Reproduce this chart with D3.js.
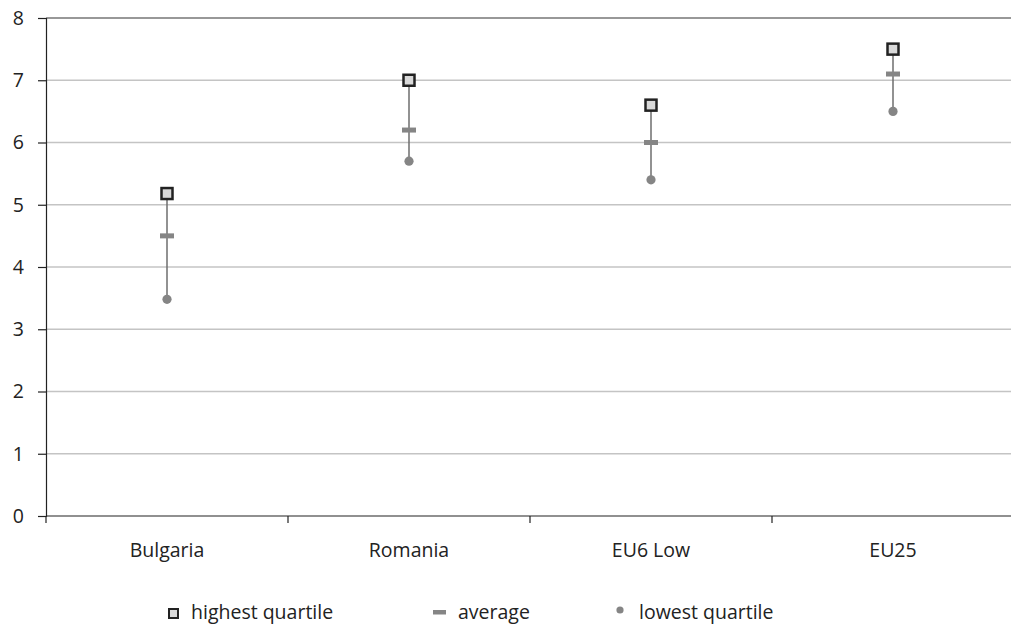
<!DOCTYPE html>
<html><head><meta charset="utf-8">
<script src="https://cdn.jsdelivr.net/npm/d3@7"></script>
<style>body{margin:0;background:#fff}svg{display:block}text{font-family:"Open Sans","Noto Sans",sans-serif;fill:#222}</style>
</head><body><svg id="c" width="1011" height="625"></svg>
<script>
const categories = ["Bulgaria","Romania","EU6 Low","EU25"];
const highest = [5.18, 7.0, 6.6, 7.5];
const average = [4.5, 6.2, 6.0, 7.1];
const lowest = [3.48, 5.7, 5.4, 6.5];
const yTicks = [0,1,2,3,4,5,6,7,8];
const legendLabels = ["highest quartile","average","lowest quartile"];

const svg = d3.select("#c");
const x = d3.scaleBand().domain(categories).range([46, 1014]);
const y = d3.scaleLinear().domain([0, 8]).range([516, 18]);
const FS = "19.5px";

// gridlines
svg.append("g").selectAll("line").data(yTicks.filter(d => d > 0 && d < 8)).join("line")
  .attr("x1", 46).attr("x2", 1011).attr("y1", d => y(d)).attr("y2", d => y(d))
  .attr("stroke", "#c4c4c4").attr("stroke-width", 1.3);
svg.append("line").attr("x1", 46).attr("x2", 1011).attr("y1", y(8)).attr("y2", y(8))
  .attr("stroke", "#333").attr("stroke-width", 1.2);

// y axis
const ya = svg.append("g").attr("transform", "translate(46,0)")
  .call(d3.axisLeft(y).tickValues(yTicks).tickSize(8).tickPadding(14).tickFormat(d3.format("d")));
ya.select(".domain").attr("stroke", "#222").attr("stroke-width", 1.2);
ya.selectAll(".tick line").attr("stroke", "#222").attr("stroke-width", 1.2);
ya.selectAll("text").style("font-size", FS).attr("fill", "#222");

// x axis
const xa = svg.append("g").attr("transform", "translate(0,516)");
xa.append("line").attr("x1", 46).attr("x2", 1011).attr("stroke", "#222").attr("stroke-width", 1.2);
const bounds = categories.map(c => x(c)).concat([x.range()[1]]);
xa.selectAll("line.t").data(bounds.filter(b => b < 1011)).join("line").attr("class", "t")
  .attr("x1", d => d).attr("x2", d => d).attr("y1", 0).attr("y2", 7)
  .attr("stroke", "#222").attr("stroke-width", 1.2);
xa.selectAll("text").data(categories).join("text")
  .attr("x", d => x(d) + x.bandwidth() / 2).attr("y", 41)
  .attr("text-anchor", "middle").style("font-size", FS).text(d => d);

// marks
const data = categories.map((c, i) => ({c, hi: highest[i], av: average[i], lo: lowest[i]}));
const g = svg.append("g");
const cx = d => x(d.c) + x.bandwidth() / 2;
g.selectAll("line.r").data(data).join("line").attr("class", "r")
  .attr("x1", cx).attr("x2", cx).attr("y1", d => y(d.hi)).attr("y2", d => y(d.lo))
  .attr("stroke", "#6e6e6e").attr("stroke-width", 1.5);
g.selectAll("circle").data(data).join("circle")
  .attr("cx", cx).attr("cy", d => y(d.lo)).attr("r", 4.6).attr("fill", "#858585");
g.selectAll("rect.av").data(data).join("rect").attr("class", "av")
  .attr("x", d => cx(d) - 7).attr("y", d => y(d.av) - 2.5).attr("width", 14).attr("height", 5)
  .attr("fill", "#858585");
g.selectAll("rect.hi").data(data).join("rect").attr("class", "hi")
  .attr("x", d => cx(d) - 5.5).attr("y", d => y(d.hi) - 5.5).attr("width", 11).attr("height", 11)
  .attr("fill", "#d9d9d9").attr("stroke", "#222").attr("stroke-width", 2.5);

// legend
const lg = svg.append("g");
const ly = 619;
lg.append("rect").attr("x", 169).attr("y", ly - 10).attr("width", 9).attr("height", 9)
  .attr("fill", "#d9d9d9").attr("stroke", "#222").attr("stroke-width", 2);
lg.append("rect").attr("x", 433).attr("y", ly - 9).attr("width", 13).attr("height", 4.5).attr("fill", "#858585");
lg.append("circle").attr("cx", 620).attr("cy", ly - 9).attr("r", 3.6).attr("fill", "#858585");
const lx = [191, 458, 639];
lg.selectAll("text").data(legendLabels).join("text")
  .attr("x", (d, i) => lx[i]).attr("y", ly).style("font-size", FS).text(d => d);
</script></body></html>
